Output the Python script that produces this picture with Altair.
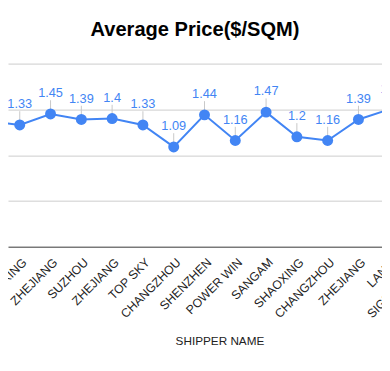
import altair as alt
import pandas as pd

# category order (first and last ones lie outside the visible window)
names = ["SUZHOU", "SHAOXING", "ZHEJIANG", "SUZHOU", "ZHEJIANG", "TOP SKY",
         "CHANGZHOU", "SHENZHEN", "POWER WIN", "SANGAM", "SHAOXING",
         "CHANGZHOU", "ZHEJIANG", "LANXI", "SIGNATURES"]
values = [1.37, 1.33, 1.45, 1.39, 1.4, 1.33, 1.09, 1.44, 1.16, 1.47, 1.2,
          1.16, 1.39, 1.5, None]
positions = list(range(len(names)))

df = pd.DataFrame({"idx": positions, "name": names, "value": values})
pts = df.dropna()

BLUE = "#4285f4"
FONT = "Liberation Sans"

xscale = alt.Scale(domain=[0.6184, 12.7647], nice=False, zero=False)
yscale = alt.Scale(domain=[0, 2], nice=False, zero=True)

base = alt.Chart(pts)

x_enc = alt.X("idx:Q", scale=xscale,
              axis=alt.Axis(title="SHIPPER NAME", labels=False, ticks=False,
                            grid=False, domain=True, domainColor="#333333",
                            domainWidth=1, titleFont=FONT, titleFontSize=12,
                            titleFontWeight="normal", titleColor="#222222",
                            titleX=216, titleY=96, titleBaseline="middle",
                            titleAlign="center"))
y_enc = alt.Y("value:Q", scale=yscale,
              axis=alt.Axis(title=None, labels=False, ticks=False, domain=False,
                            grid=True, gridColor="#cccccc", gridWidth=1,
                            values=[0.5, 1, 1.5, 2]))

stems = base.mark_rule(color="#c8c8c8", strokeWidth=1, clip=True, y2Offset=-14).encode(
    x=x_enc, y=y_enc, y2="value:Q")

line = base.mark_line(color=BLUE, strokeWidth=2, clip=True).encode(
    x="idx:Q", y="value:Q")

points = base.mark_circle(color=BLUE, opacity=1, size=125, clip=True).encode(
    x="idx:Q", y="value:Q")

vlabels = base.mark_text(color=BLUE, font=FONT, fontSize=13, dy=-17,
                         baseline="alphabetic", align="center", clip=True).encode(
    x="idx:Q", y="value:Q", text=alt.Text("value:Q", format="~g"))

xlabels = alt.Chart(df).mark_text(font=FONT, fontSize=12.5, color="#222222",
                                  angle=315, align="right", baseline="middle",
                                  xOffset=5).encode(
    x="idx:Q", y=alt.value(201), text="name:N")

chart = alt.layer(stems, line, points, vlabels, xlabels).properties(
    width=382, height=187,
    autosize=alt.AutoSizeParams(type="none"),
    padding={"left": 0, "top": 53, "right": 0, "bottom": 115},
    title=alt.TitleParams("Average Price($/SQM)", font=FONT, fontSize=20.5,
                          fontWeight="bold", color="#000000", anchor="middle",
                          frame="group", baseline="alphabetic", offset=8, dx=0),
).configure_view(stroke=None)

chart.save("out.html", embed_options={"renderer": "svg", "actions": False})
